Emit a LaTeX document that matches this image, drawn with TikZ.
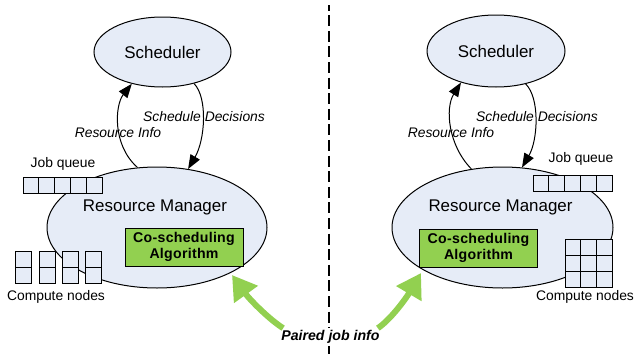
\documentclass[tikz,border=0pt]{standalone}
\usepackage{fontspec}
\setmainfont{Liberation Sans}
\usetikzlibrary{arrows.meta,shapes.geometric}
\definecolor{efill}{HTML}{E6ECF7}
\definecolor{cgreen}{HTML}{92D050}
\begin{document}
\begin{tikzpicture}[x=0.75pt,y=-0.75pt,
  bigell/.style={ellipse,draw=black,line width=0.75pt,fill=efill,inner sep=0pt},
  bigtxt/.style={font=\fontsize{12.7}{15}\selectfont},
  smalltxt/.style={font=\fontsize{10.4}{12}\selectfont,inner sep=0pt},
  lbl/.style={font=\fontsize{10.4}{12}\selectfont\itshape,inner sep=1pt},
  algobox/.style={draw=black,line width=0.75pt,fill=cgreen,minimum width=88.5pt,minimum height=28.5pt,inner sep=0pt,align=center,font=\fontsize{10.6}{12}\selectfont\bfseries\addfontfeature{LetterSpace=2}},
  cell/.style={draw=black,line width=0.75pt,fill=efill},
  flow/.style={line width=0.75pt,-{Triangle[length=10.5pt,width=8pt]}},
  pair/.style={draw=cgreen,line width=4.5pt,-{Triangle[length=18pt,width=21pt]}}
]
\useasboundingbox (0,0) rectangle (635,357);

% divider
\draw[line width=1.6pt,dash pattern=on 8.2pt off 3.5pt,dash phase=4pt] (329.3,5) -- (329.3,357);

% ---------- left side ----------
\node[bigell,minimum width=102.75pt,minimum height=52.5pt,bigtxt] (schedL) at (162.5,52) {Scheduler};
\node[bigell,minimum width=165pt,minimum height=90.75pt] (rmL) at (157,227.5) {};
\node[bigtxt,inner sep=0pt] (rmtL) at (155,207) {Resource Manager};
\node[algobox] (algL) at (184,247) {Co-scheduling\\[0.5pt]Algorithm};

% job queue left
\foreach \i in {0,...,4}{
  \draw[cell] (23+\i*15.8,177) rectangle ++(15.8,16);
}
\node[smalltxt] (jqL) at (63,164) {Job queue};
% compute nodes left
\foreach \x in {15.7,39,62.3,85.7}{
  \draw[cell] (\x,251) rectangle ++(16,16);
  \draw[cell] (\x,267) rectangle ++(16,16);
}
\node[smalltxt] (cnL) at (56,297) {Compute nodes};

\draw[flow] (rmL.108) .. controls (112,145) and (115,105) .. (schedL.226);
\draw[flow] (schedL.315) .. controls (208,98) and (205,140) .. (rmL.62);
\node[lbl] (riL) at (118,133) {Resource Info};
\node[lbl] (sdL) at (204,117) {Schedule Decisions};

% ---------- right side ----------
\node[bigell,minimum width=103.5pt,minimum height=54pt,bigtxt] (schedR) at (496,51) {Scheduler};
\node[bigell,minimum width=165.75pt,minimum height=90.75pt] (rmR) at (502.5,227.5) {};
\node[bigtxt,inner sep=0pt] (rmtR) at (500.5,207) {Resource Manager};
\node[algobox] (algR) at (478.5,248) {Co-scheduling\\[0.5pt]Algorithm};

% job queue right
\foreach \i in {0,...,4}{
  \draw[cell] (533+\i*15.8,175) rectangle ++(15.8,16);
}
\node[smalltxt] (jqR) at (581,159) {Job queue};
% compute nodes right
\foreach \i in {0,1,2}{
  \foreach \j in {0,1,2}{
    \draw[cell] (565+\i*15.8,239+\j*16) rectangle ++(15.8,16);
  }
}
\node[smalltxt] (cnR) at (585,297) {Compute nodes};

\draw[flow] (rmR.118) .. controls (448,145) and (445,108) .. (schedR.222);
\draw[flow] (schedR.312) .. controls (540,98) and (538,140) .. (rmR.72);
\node[lbl] (riR) at (451,133) {Resource Info};
\node[lbl] (sdR) at (537,117) {Schedule Decisions};

% ---------- paired job info ----------
\node[fill=white,inner sep=1.5pt,font=\fontsize{10.6}{12}\selectfont\bfseries\itshape] (pji) at (330.5,337) {Paired job info};
\coordinate (tL) at (232,275);
\coordinate (tR) at (421,273);
\draw[pair] (pji.north west) ++(4,0) .. controls (270,320) and (250,300) .. (tL);
\draw[pair] (pji.north east) ++(-4,0) .. controls (390,320) and (405,300) .. (tR);
\end{tikzpicture}
\end{document}
